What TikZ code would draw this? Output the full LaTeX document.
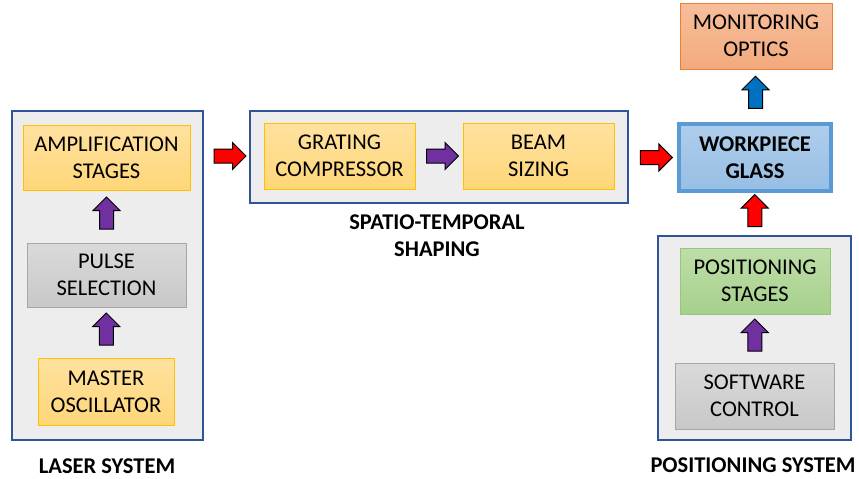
\documentclass[tikz,border=0pt]{standalone}
\usepackage{fontspec}
\setmainfont{Carlito}
\usepackage{tikz}
\usetikzlibrary{arrows.meta,positioning,calc,shapes.arrows}
\definecolor{frameblue}{RGB}{47,85,151}
\definecolor{panelgray}{RGB}{237,237,237}
\definecolor{ambertop}{RGB}{255,226,160}
\definecolor{amberbot}{RGB}{255,214,120}
\definecolor{amberline}{RGB}{255,192,0}
\definecolor{graytop}{RGB}{218,218,218}
\definecolor{graybot}{RGB}{200,200,200}
\definecolor{grayline}{RGB}{166,166,166}
\definecolor{greentop}{RGB}{190,222,168}
\definecolor{greenbot}{RGB}{166,208,140}
\definecolor{greenline}{RGB}{150,200,120}
\definecolor{salmontop}{RGB}{247,190,155}
\definecolor{salmonbot}{RGB}{243,170,125}
\definecolor{salmonline}{RGB}{237,125,49}
\definecolor{skytop}{RGB}{175,205,235}
\definecolor{skybot}{RGB}{150,190,228}
\definecolor{skyline}{RGB}{91,155,213}
\definecolor{flowpurple}{RGB}{112,48,160}
\definecolor{flowblue}{RGB}{0,112,192}

\begin{document}
\begin{tikzpicture}[x=1pt,y=-1pt,
  every node/.style={font=\fontsize{22.5}{27}\selectfont,align=center,inner sep=0pt},
  panel/.style={rectangle,draw=frameblue,line width=1.5pt,fill=panelgray},
  amberbox/.style={rectangle,draw=amberline,line width=1pt,top color=ambertop,bottom color=amberbot},
  graybox/.style={rectangle,draw=grayline,line width=1pt,top color=graytop,bottom color=graybot},
  greenbox/.style={rectangle,draw=greenline,line width=1pt,top color=greentop,bottom color=greenbot},
  salmonbox/.style={rectangle,draw=salmonline,line width=1pt,top color=salmontop,bottom color=salmonbot},
  glassbox/.style={rectangle,draw=skyline,line width=4pt,top color=skytop,bottom color=skybot,font=\fontsize{22.5}{27}\selectfont\bfseries},
  caption/.style={font=\fontsize{22.5}{27}\selectfont\bfseries},
  flow/.style={single arrow,draw=black,line width=1pt,minimum height=32pt,minimum width=26pt,
               inner sep=6.5pt,single arrow head extend=6.5pt},
  upflow/.style={flow,shape border rotate=90}
]
\useasboundingbox (0,0) rectangle (859,479);
% laser system panel
\node[panel,minimum width=191pt,minimum height=329pt] (laser) at (107.5,275.5) {};
\node[amberbox,minimum width=167pt,minimum height=65pt] (amp) at (106.5,157.5) {AMPLIFICATION\\STAGES};
\node[graybox,minimum width=159pt,minimum height=64pt] (pulse) at (106.5,275) {PULSE\\SELECTION};
\node[amberbox,minimum width=136pt,minimum height=67pt] (master) at (106,391.5) {MASTER\\OSCILLATOR};
\node[caption] (lasercap) at (107,466) {LASER SYSTEM};
% spatio-temporal shaping panel
\node[panel,minimum width=378pt,minimum height=92pt] (shaping) at (439,157) {};
\node[amberbox,minimum width=151pt,minimum height=66pt] (grating) at (339.5,156) {GRATING\\COMPRESSOR};
\node[amberbox,minimum width=151pt,minimum height=66pt] (beam) at (538.5,156) {BEAM\\SIZING};
\node[caption] (shapingcap) at (437,236) {SPATIO-TEMPORAL\\SHAPING};
% workpiece and monitoring
\node[salmonbox,minimum width=152pt,minimum height=66pt] (monitor) at (756,36) {MONITORING\\OPTICS};
\node[glassbox,minimum width=152pt,minimum height=67pt] (glass) at (755,157.5) {WORKPIECE\\GLASS};
% positioning system panel
\node[panel,minimum width=193pt,minimum height=204pt] (possys) at (754.5,338) {};
\node[greenbox,minimum width=150pt,minimum height=66pt] (stages) at (755,281) {POSITIONING\\STAGES};
\node[graybox,minimum width=159pt,minimum height=66pt] (software) at (754.5,396) {SOFTWARE\\CONTROL};
\node[caption] (poscap) at (753,465) {POSITIONING SYSTEM};
% block arrows
\node[upflow,fill=flowpurple] (a1) at ($(master.north)!0.5!(pulse.south)$) {};
\node[upflow,fill=flowpurple] (a2) at ($(pulse.north)!0.5!(amp.south)$) {};
\node[flow,fill=red] (a3) at ($(laser.east |- grating)!0.5!(shaping.west |- grating)$) {};
\node[flow,fill=flowpurple] (a4) at ($(grating.east)!0.5!(beam.west)$) {};
\node[flow,fill=red] (a5) at ($(shaping.east |- glass)!0.5!(glass.west)$) {};
\node[upflow,fill=flowblue] (a6) at ($(glass.north)!0.5!(monitor.south)$) {};
\node[upflow,fill=red] (a7) at ($(possys.north)!0.5!(glass.south)$) {};
\node[upflow,fill=flowpurple] (a8) at ($(software.north)!0.5!(stages.south)$) {};
\end{tikzpicture}
\end{document}
